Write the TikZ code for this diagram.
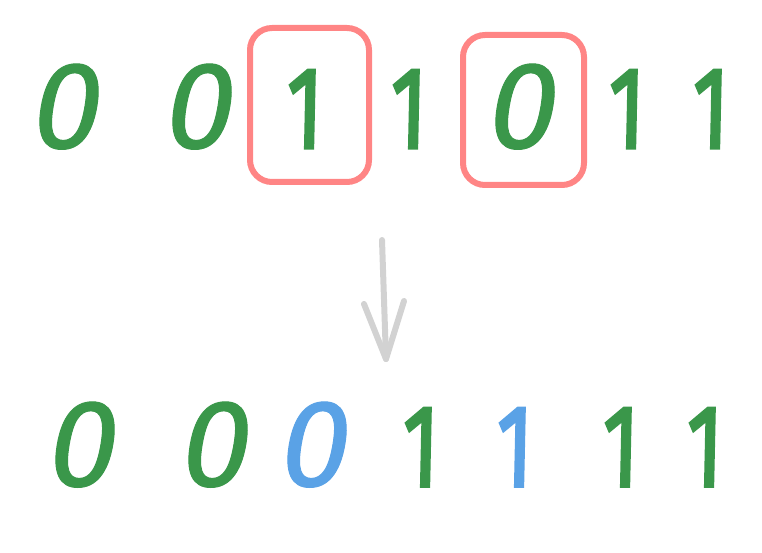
\documentclass[tikz,border=0pt]{standalone}
\usepackage{fontspec}
\setmainfont{Fira Sans}
\newfontfamily\zerofont{Fira Sans}[FakeSlant=0.17, FakeBold=0.8]
\newfontfamily\onefont{Fira Sans}[FakeSlant=0.03, FakeBold=3]
\newcommand{\narrowone}{\scalebox{0.72}[1]{1}}
\definecolor{dgreen}{HTML}{3A974A}
\definecolor{dblue}{HTML}{5AA2E6}
\definecolor{dred}{HTML}{FF8585}
\definecolor{dgray}{HTML}{D2D2D2}
\tikzset{
  zero/.style={anchor=base, inner sep=0pt, text=dgreen, font=\fontsize{124}{124}\zerofont},
  one/.style={anchor=base, inner sep=0pt, text=dgreen, font=\fontsize{116}{116}\onefont},
  bluezero/.style={zero, text=dblue},
  blueone/.style={one, text=dblue},
  redbox/.style={draw=dred, line width=6pt, rounded corners=22pt, inner sep=0pt},
  grayarrow/.style={draw=dgray, line width=6pt, line cap=round, line join=round}
}
\begin{document}
\begin{tikzpicture}[x=1pt, y=-1pt]
\useasboundingbox (0,0) rectangle (762,553);
% top row
\node[zero] (t1) at (62,148) {0};
\node[zero] (t2) at (195,148) {0};
\node[redbox, minimum width=119pt, minimum height=154pt] (b1) at (309.5,105) {};
\node[one] (t3) at (304,148) {\narrowone};
\node[one] (t4) at (408,148) {\narrowone};
\node[redbox, minimum width=121pt, minimum height=150pt] (b2) at (523.5,110) {};
\node[zero] (t5) at (518,148) {0};
\node[one] (t6) at (626,148) {\narrowone};
\node[one] (t7) at (710,148) {\narrowone};
% arrow
\coordinate (a1) at (382,240);
\coordinate (a2) at (386,359);
\coordinate (h1) at (364,304);
\coordinate (h2) at (404,301);
\draw[grayarrow] (a1) -- (a2);
\draw[grayarrow] (h1) -- (a2) -- (h2);
% bottom row
\node[zero] (u1) at (78,486) {0};
\node[zero] (u2) at (211,486) {0};
\node[bluezero] (u3) at (310,486) {0};
\node[one] (u4) at (420,486) {\narrowone};
\node[blueone] (u5) at (514,486) {\narrowone};
\node[one] (u6) at (620,486) {\narrowone};
\node[one] (u7) at (704,486) {\narrowone};
\end{tikzpicture}
\end{document}
